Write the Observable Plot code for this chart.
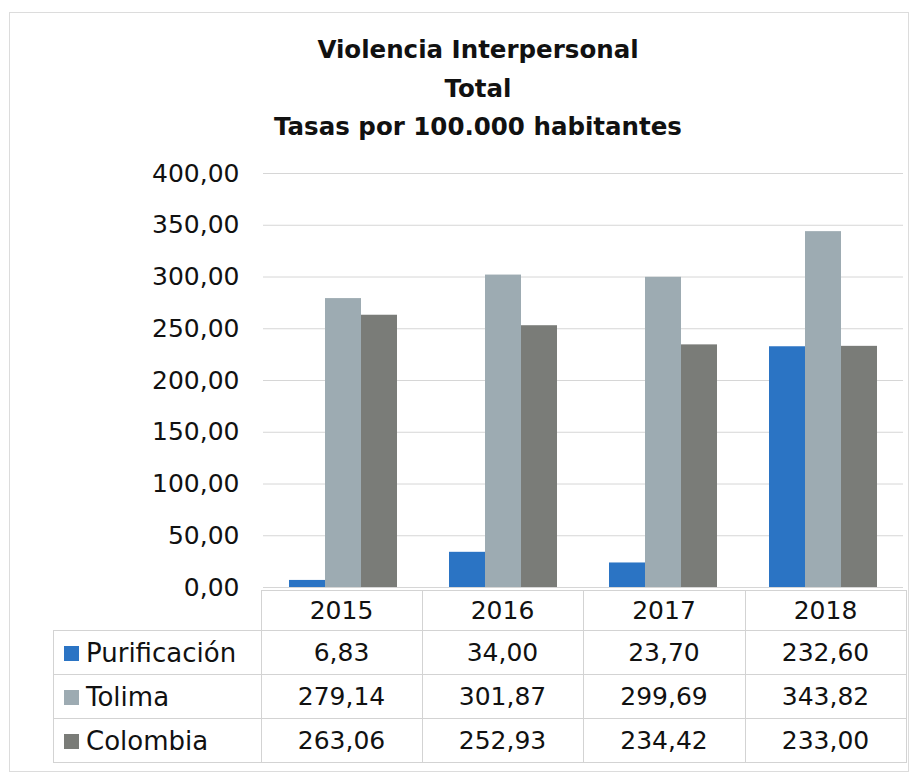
<!DOCTYPE html>
<html>
<head>
<meta charset="utf-8">
<script src="https://cdn.jsdelivr.net/npm/d3@7"></script>
<script src="https://cdn.jsdelivr.net/npm/@observablehq/plot@0.6"></script>
<style>
  html, body { margin: 0; padding: 0; background: #fff; }
  body { width: 922px; height: 777px; position: relative; overflow: hidden; font-family: "DejaVu Sans", sans-serif; color: #111; }
  #frame { position: absolute; left: 9px; top: 12px; width: 900px; height: 760px; border: 1px solid #dcdcdc; box-sizing: border-box; }
  #title { position: absolute; left: 0; top: 31px; width: 956px; text-align: center; font-weight: bold; font-size: 24.5px; line-height: 38.5px; }
  #chart { position: absolute; left: 0; top: 150px; }
  #tbl { position: absolute; left: 53px; top: 590px; border-collapse: collapse; font-size: 25px; background: transparent; }
  #tbl td { border: 1px solid #d3d3d3; text-align: center; padding: 0; }
  #tbl td.lab { text-align: left; padding-left: 10px; font-size: 26px; white-space: nowrap; }
  #tbl td.empty { border-top: none; border-left: none; background: transparent; }
  .sw { display: inline-block; width: 15px; height: 15px; margin-right: 7px; vertical-align: 1px; }
</style>
</head>
<body>
<div id="frame"></div>
<div id="title">Violencia Interpersonal<br>Total<br>Tasas por 100.000 habitantes</div>
<div id="chart"></div>
<table id="tbl"></table>
<script>
const years = ["2015", "2016", "2017", "2018"];
const seriesNames = ["Purificación", "Tolima", "Colombia"];
const purificacion = [6.83, 34.00, 23.70, 232.60];
const tolima = [279.14, 301.87, 299.69, 343.82];
const colombia = [263.06, 252.93, 234.42, 233.00];
const seriesColors = ["#2b74c4", "#9dabb2", "#7a7c78"];
const yTicks = [0, 50, 100, 150, 200, 250, 300, 350, 400];

const seriesValues = [purificacion, tolima, colombia];
const data = [];
years.forEach((yr, i) => {
  seriesNames.forEach((s, j) => data.push({year: yr, series: s, value: seriesValues[j][i]}));
});
const fmt = v => d3.format(".2f")(v).replace(".", ",");

const chart = Plot.plot({
  width: 922,
  height: 460,
  marginTop: 23,
  marginBottom: 23,
  marginLeft: 262,
  marginRight: 19,
  style: {fontFamily: "DejaVu Sans", fontSize: "25px", color: "#111", background: "transparent", overflow: "visible"},
  fx: {domain: years, padding: 0, axis: null},
  x: {domain: seriesNames, paddingInner: 0, paddingOuter: 0.72, axis: null},
  y: {domain: [0, 400], ticks: yTicks, tickFormat: fmt, tickSize: 0, tickPadding: 24, label: null},
  color: {domain: seriesNames, range: seriesColors},
  marks: [
    Plot.ruleY(yTicks, {stroke: "#d6d6d6", strokeWidth: 1}),
    Plot.barY(data, {fx: "year", x: "series", y: "value", fill: "series"})
  ]
});
document.getElementById("chart").appendChild(chart);

// data table below the plot
const tbl = document.getElementById("tbl");
const colW = [207, 160, 160, 161, 160];
let html = "<tr style='height:40px'><td class='empty' style='width:" + colW[0] + "px'></td>";
years.forEach((y, i) => { html += "<td style='width:" + colW[i + 1] + "px'>" + y + "</td>"; });
html += "</tr>";
seriesNames.forEach((s, j) => {
  html += "<tr style='height:44px'><td class='lab'><span class='sw' style='background:" + seriesColors[j] + "'></span>" + s + "</td>";
  seriesValues[j].forEach(v => { html += "<td>" + fmt(v) + "</td>"; });
  html += "</tr>";
});
tbl.innerHTML = html;
</script>
</body>
</html>
